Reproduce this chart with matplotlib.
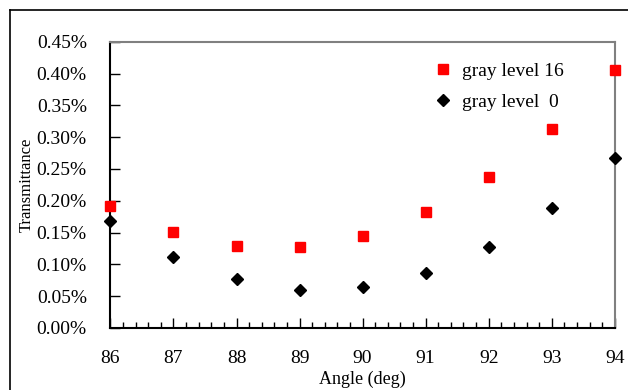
import matplotlib
matplotlib.use("Agg")
import matplotlib.pyplot as plt
from matplotlib.lines import Line2D
from matplotlib.ticker import FuncFormatter, MultipleLocator

plt.rcParams['font.family'] = ['Liberation Serif', 'DejaVu Serif']

angles = [86, 87, 88, 89, 90, 91, 92, 93, 94]
gray16 = [0.191, 0.151, 0.129, 0.127, 0.144, 0.182, 0.237, 0.3125, 0.405]
gray0 = [0.168, 0.112, 0.077, 0.059, 0.064, 0.086, 0.128, 0.188, 0.267]
yticks = [0.00, 0.05, 0.10, 0.15, 0.20, 0.25, 0.30, 0.35, 0.40, 0.45]

fig = plt.figure(figsize=(6.28, 3.9), dpi=100)
ax = fig.add_axes([0.1758, 0.159, 0.8032, 0.734])

ax.plot(angles, gray16, linestyle='none', marker='s', markersize=6.5,
        color='#ff0000', markeredgecolor='#ff0000', label='gray level 16', clip_on=False, zorder=5)
ax.plot(angles, gray0, linestyle='none', marker='D', markersize=6,
        color='black', label='gray level  0', clip_on=False, zorder=5)

ax.set_xlim(86, 94)
ax.set_ylim(0, 0.45)
ax.set_yticks(yticks)
ax.yaxis.set_major_formatter(FuncFormatter(lambda v, p: f"{v:.2f}%"))
ax.set_xticks(angles)
ax.xaxis.set_minor_locator(MultipleLocator(0.2))

ax.tick_params(axis='y', direction='in', length=7, width=1, labelsize=14, pad=17, right=False)
ax.tick_params(axis='x', which='major', direction='in', length=7, width=1, labelsize=14, pad=16, top=False)
ax.tick_params(axis='x', which='minor', direction='in', length=4, width=1, top=False)

for s in ['left', 'bottom']:
    ax.spines[s].set_color('black')
    ax.spines[s].set_linewidth(1.5)
for s in ['top', 'right']:
    ax.spines[s].set_color('#808080')
    ax.spines[s].set_linewidth(1.5)

ax.set_xlabel('Angle (deg)', fontsize=13, va='bottom')
ax.xaxis.set_label_coords(0.5, -60 / 286.0)
ax.set_ylabel('Transmittance', fontsize=12)
ax.yaxis.set_label_coords(-76 / 505.0, 0.5)

leg = ax.legend(loc='upper left', bbox_to_anchor=(0.61, 0.99), frameon=False,
                fontsize=14, handlelength=0.8, handletextpad=0.55, labelspacing=0.68)

fig.add_artist(Line2D([10/628, 10/628], [1 - 10/390, 0], color='black', lw=1.2, transform=fig.transFigure))
fig.add_artist(Line2D([10/628, 1], [1 - 10/390, 1 - 10/390], color='black', lw=1.2, transform=fig.transFigure))

fig.savefig('out.png', dpi=100)
